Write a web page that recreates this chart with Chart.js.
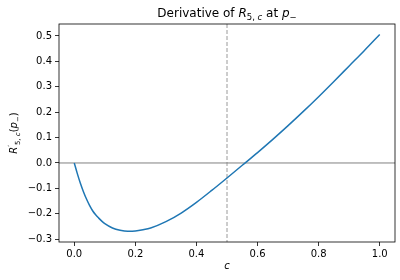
<!DOCTYPE html>
<html>
<head>
<meta charset="utf-8">
<script src="https://cdn.jsdelivr.net/npm/chart.js@4/dist/chart.umd.min.js"></script>
<style>
  html, body { margin: 0; padding: 0; background: #fff; }
  #wrap { width: 400px; height: 280px; }
</style>
</head>
<body>
<div id="wrap"><canvas id="chart" width="400" height="280"></canvas></div>
<script>
// Data
const cValues = [0, 0.01, 0.02, 0.03, 0.04, 0.05, 0.06, 0.07, 0.08, 0.09, 0.1, 0.125, 0.15, 0.175, 0.2, 0.225, 0.25,
                 0.3, 0.35, 0.4, 0.45, 0.5, 0.55, 0.6, 0.65, 0.7, 0.75, 0.8, 0.85, 0.9, 0.95, 1.0];
const derivValues = [0, -0.042, -0.08, -0.113, -0.142, -0.167, -0.188, -0.204, -0.217, -0.229, -0.239, -0.256,
                     -0.265, -0.269, -0.268, -0.263, -0.256, -0.231, -0.197, -0.155, -0.108, -0.059, -0.009,
                     0.041, 0.093, 0.147, 0.203, 0.261, 0.321, 0.382, 0.443, 0.506];
const xTicks = [0, 0.2, 0.4, 0.6, 0.8, 1.0];
const yTicks = [-0.3, -0.2, -0.1, 0, 0.1, 0.2, 0.3, 0.4, 0.5];
const zeroLineY = 0;
const markerX = 0.5;

const FONT = '"DejaVu Sans", sans-serif';

function fmt(v) {
    const s = v.toFixed(1);
    return s.replace('-', '\u2212');
}

// draw a list of [text, font, dy] pieces
function drawPieces(ctx, pieces, x, y, align) {
    let total = 0;
    pieces.forEach(p => { ctx.font = p[1]; total += ctx.measureText(p[0]).width; });
    let cx = align === 'center' ? x - total / 2 : x;
    pieces.forEach(p => {
        ctx.font = p[1];
        ctx.fillText(p[0], cx, y + (p[2] || 0));
        cx += ctx.measureText(p[0]).width;
    });
}

const decorPlugin = {
    id: 'decor',
    beforeDatasetsDraw(chart) {
        const ctx = chart.ctx;
        const a = chart.chartArea;
        const xs = chart.scales.x, ys = chart.scales.y;
        ctx.save();
        // zero line
        const y0 = ys.getPixelForValue(zeroLineY);
        ctx.strokeStyle = '#808080';
        ctx.lineWidth = 1;
        ctx.beginPath();
        ctx.moveTo(a.left, y0);
        ctx.lineTo(a.right, y0);
        ctx.stroke();
        // dashed vertical
        const x0 = xs.getPixelForValue(markerX);
        ctx.setLineDash([4, 2]);
        ctx.lineWidth = 0.8;
        ctx.beginPath();
        ctx.moveTo(x0, a.top);
        ctx.lineTo(x0, a.bottom);
        ctx.stroke();
        ctx.restore();
    },
    afterDraw(chart) {
        const ctx = chart.ctx;
        const a = chart.chartArea;
        ctx.save();
        // frame
        ctx.strokeStyle = '#000';
        ctx.lineWidth = 0.8;
        ctx.strokeRect(a.left, a.top, a.right - a.left, a.bottom - a.top);
        ctx.fillStyle = '#000';
        ctx.textBaseline = 'alphabetic';
        // title
        const reg = '12px ' + FONT, it = 'italic 12px ' + FONT;
        const sub = '8.5px ' + FONT, subIt = 'italic 8.5px ' + FONT;
        drawPieces(ctx, [
            ['Derivative of ', reg], ['R', it], ['5, ', sub, 3], ['c', subIt, 3],
            [' at ', reg], ['p', it], ['\u2212', sub, 3]
        ], (a.left + a.right) / 2, 17, 'center');
        // y label
        ctx.translate(17, (a.top + a.bottom) / 2);
        ctx.rotate(-Math.PI / 2);
        const r10 = '10px ' + FONT, i10 = 'italic 10px ' + FONT;
        const s7 = '7px ' + FONT, si7 = 'italic 7px ' + FONT;
        drawPieces(ctx, [
            ['R', i10], ['\u2032', s7, -4], ['5, ', s7, 2.5], ['c', si7, 2.5],
            ['(', r10], ['p', i10], ['\u2212', s7, 2.5], [')', r10]
        ], 0, 0, 'center');
        ctx.restore();
    }
};

new Chart(document.getElementById('chart'), {
    type: 'line',
    data: {
        datasets: [{
            data: cValues.map((c, i) => ({ x: c, y: derivValues[i] })),
            borderColor: '#1f77b4',
            borderWidth: 1.5,
            pointRadius: 0,
            cubicInterpolationMode: 'monotone',
            fill: false
        }]
    },
    options: {
        responsive: false,
        animation: false,
        devicePixelRatio: 1,
        layout: { padding: { left: 0, right: 5, top: 24, bottom: 0 } },
        plugins: {
            legend: { display: false },
            tooltip: { enabled: false },
            title: { display: false }
        },
        scales: {
            x: {
                type: 'linear',
                min: -0.05,
                max: 1.05,
                afterBuildTicks: s => { s.ticks = xTicks.map(v => ({ value: v })); },
                afterFit: s => { s.height = 38; },
                grid: { drawOnChartArea: false, drawTicks: true, tickLength: 4, color: '#000', lineWidth: 0.8 },
                border: { display: false },
                ticks: {
                    callback: v => fmt(v),
                    color: '#000',
                    font: { family: FONT, size: 10 },
                    padding: 2,
                    maxRotation: 0
                },
                title: {
                    display: true,
                    text: 'c',
                    color: '#000',
                    font: { family: FONT, size: 10, style: 'italic' },
                    padding: { top: 0, bottom: 8 }
                }
            },
            y: {
                type: 'linear',
                min: -0.311,
                max: 0.547,
                afterBuildTicks: s => { s.ticks = yTicks.map(v => ({ value: v })); },
                afterFit: s => { s.width = 59; },
                grid: { drawOnChartArea: false, drawTicks: true, tickLength: 4, color: '#000', lineWidth: 0.8 },
                border: { display: false },
                ticks: {
                    callback: v => fmt(v),
                    color: '#000',
                    font: { family: FONT, size: 10 },
                    padding: 3
                }
            }
        }
    },
    plugins: [decorPlugin]
});
</script>
</body>
</html>
